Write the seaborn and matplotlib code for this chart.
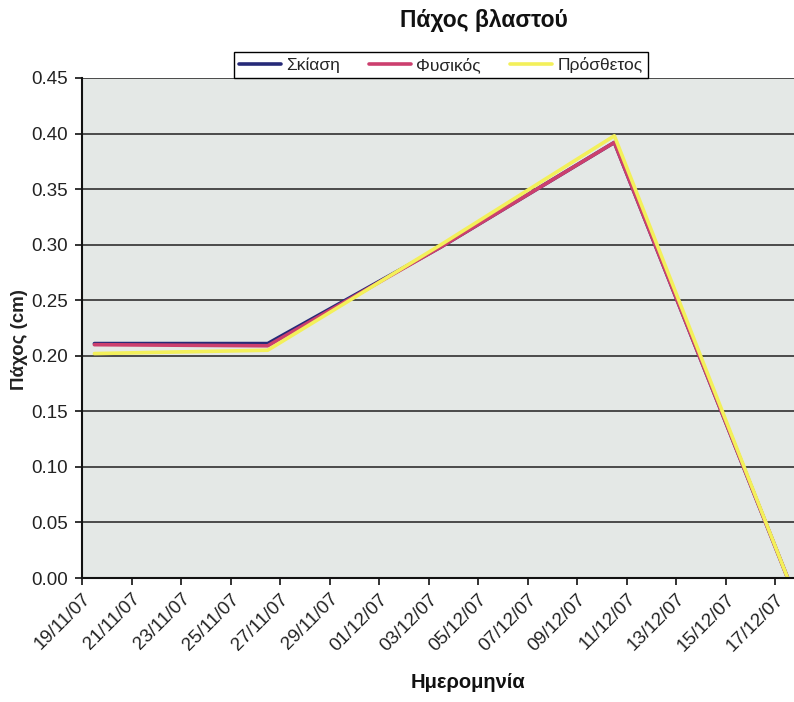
import numpy as np
import pandas as pd
import matplotlib
matplotlib.use("Agg")
import matplotlib.pyplot as plt
from matplotlib.ticker import FormatStrFormatter
import seaborn as sns

sns.set_theme(style="ticks")
plt.rcParams['font.family'] = ['Liberation Sans', 'DejaVu Sans']

# Measurement dates and shoot thickness (cm) per treatment
dates = ["2007-11-19", "2007-11-26", "2007-12-03", "2007-12-10", "2007-12-17"]
skiasi = [0.211, 0.211, 0.298, 0.392, 0.0]
fysikos = [0.210, 0.209, 0.298, 0.392, 0.0]
prosthetos = [0.202, 0.205, 0.300, 0.398, 0.0]
series_names = ["Σκίαση", "Φυσικός", "Πρόσθετος"]
series_colors = ["#262a78", "#cc3f6e", "#f3f05a"]
tick_dates = pd.date_range("2007-11-19", "2007-12-17", freq="2D")

# Points sit in the middle of each day slot (date axis, between tick marks)
day_dates = pd.to_datetime(dates) + pd.Timedelta(hours=12)
df = pd.concat([
    pd.DataFrame({"date": day_dates, "value": vals, "series": name})
    for name, vals in zip(series_names, [skiasi, fysikos, prosthetos])
], ignore_index=True)

fig = plt.figure(figsize=(7.94, 7.02), dpi=100)
fig.patch.set_facecolor("white")
ax = fig.add_axes([0.1033, 0.1766, 0.9043, 0.7123])
ax.set_facecolor("#e4e8e6")

sns.lineplot(data=df, x="date", y="value", hue="series", hue_order=series_names,
             palette=series_colors, linewidth=2.6, ax=ax, legend=True)

ax.set_xlim(pd.Timestamp("2007-11-19"), pd.Timestamp("2007-12-18"))
ax.set_ylim(0, 0.45)
ax.set_yticks(np.arange(0, 0.451, 0.05))
ax.yaxis.set_major_formatter(FormatStrFormatter('%.2f'))
ax.set_xticks(tick_dates)
ax.set_xticklabels([d.strftime("%d/%m/%y") for d in tick_dates], rotation=45,
                   ha="right", va="top", rotation_mode="anchor")

ax.yaxis.grid(True, color="#4a4a4a", linewidth=1.4)
ax.xaxis.grid(False)
ax.set_axisbelow(True)
for side in ["top", "right"]:
    ax.spines[side].set_visible(False)
for side in ["left", "bottom"]:
    ax.spines[side].set_color("#111111")
    ax.spines[side].set_linewidth(1.5)
ax.tick_params(axis="both", direction="out", length=5, width=1.2, color="#111111",
               labelcolor="#222222", labelsize=13.5)
ax.tick_params(axis="x", pad=4)
ax.tick_params(axis="y", pad=5)

ax.set_xlabel("")
ax.set_ylabel("Πάχος (cm)", fontweight="bold", fontsize=13.5, color="#222222")
ax.yaxis.set_label_coords(-0.075, 0.476)

handles, labels = ax.get_legend_handles_labels()
ax.get_legend().remove()
fig.legend(handles, labels, ncol=3, loc="center", bbox_to_anchor=(0.555, 0.907),
           frameon=True, edgecolor="black", fancybox=False, framealpha=1,
           handlelength=2.4, columnspacing=1.7, handletextpad=0.3,
           fontsize=12.5, borderpad=0.3)

fig.text(484 / 794, 1 - 20 / 702, "Πάχος βλαστού", ha="center", va="center",
         fontweight="bold", fontsize=16.5, color="#111111")
fig.text(468 / 794, 1 - 682 / 702, "Ημερομηνία", ha="center", va="center",
         fontweight="bold", fontsize=14.5, color="#111111")

fig.savefig("out.png", dpi=100)
